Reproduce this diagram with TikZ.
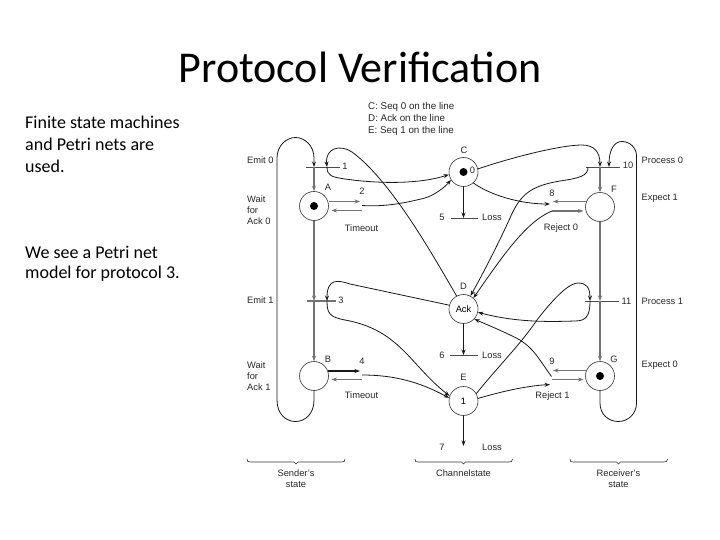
\documentclass[tikz,border=0pt]{standalone}
\usepackage{fontspec}
\setmainfont{Liberation Sans}
\newfontfamily\slidefont{Carlito}
\usetikzlibrary{arrows.meta}
\tikzset{
  x=1pt,y=-1pt,
  place/.style={circle,draw=black!80,line width=0.6pt,minimum size=29pt,inner sep=0pt,font=\fontsize{9.3}{10}\selectfont},
  lab/.style={font=\fontsize{9.3}{11}\selectfont,text=black!85,inner sep=0pt,align=center},
  labl/.style={lab,anchor=west,align=left},
  body/.style={font=\slidefont\fontsize{18}{22}\selectfont,anchor=west,inner sep=0pt,align=left},
  wire/.style={line width=0.8pt,black!90},
  hv/.style={line width=1.3pt,black!55},
  bar/.style={line width=0.8pt,black!70},
  arr/.style={-{Stealth[length=5.5pt,width=4pt]}},
  token/.style={circle,fill=black,inner sep=0pt,minimum size=8pt},
  brace/.style={line width=0.6pt,black!80}
}
\begin{document}
\begin{tikzpicture}
\useasboundingbox (0,0) rectangle (720,540);
\node[font=\slidefont\fontsize{44}{48}\selectfont,inner sep=0pt] (title) at (360,67) {Protocol Verification};
\node[body] (t1) at (25,122) {Finite state machines};
\node[body] (t2) at (25,144) {and Petri nets are};
\node[body] (t3) at (25,166) {used.};
\node[body] (t4) at (25,252) {We see a Petri net};
\node[body] (t5) at (25,274) {model for protocol 3.};
% places
\node[place] (A) at (314,206) {};
\node[place] (B) at (314,376) {};
\node[place] (C) at (463.5,172) {};
\node[place] (D) at (463.5,309) {Ack};
\node[place] (E) at (463.5,401) {1};
\node[place] (F) at (600,207) {};
\node[place] (G) at (600,376) {};
\node[token] (ta) at (A) {};
\node[token] (tc) at (C) {};
\node[token] (tg) at (G) {};
% transition points
\coordinate (T1) at (314,167); \coordinate (T1r) at (327,167);
\coordinate (T1a) at (306,167); \coordinate (T1b) at (340,167);
\coordinate (T3) at (314,301); \coordinate (T3r) at (327,301);
\coordinate (T3a) at (306.5,301); \coordinate (T3b) at (336,301);
\coordinate (T10) at (600,167); \coordinate (T10l) at (588,167); \coordinate (T10r) at (609,167);
\coordinate (T10a) at (585.5,167); \coordinate (T10b) at (620,167);
\coordinate (T11) at (600,301); \coordinate (T11l) at (590,301);
\coordinate (T11a) at (585,301); \coordinate (T11b) at (618.5,301);
\coordinate (L5) at (463.5,218); \coordinate (L5a) at (451,218); \coordinate (L5b) at (478,218);
\coordinate (L6) at (463.5,355); \coordinate (L6a) at (450,355); \coordinate (L6b) at (478,355);
\coordinate (L7) at (463.5,446);
\coordinate (T2) at (362,205.5);
\coordinate (T4) at (362,375);
\coordinate (T8) at (552,211); \coordinate (T8i) at (550,204);
\coordinate (T9) at (552,379); \coordinate (T9i) at (550,384.5); \coordinate (T9d) at (551.5,376.5);
% short arrow ends beside the places
\coordinate (Ao) at (328.5,201.5); \coordinate (T2i) at (360,201.5);
\coordinate (T2o) at (362,210.5); \coordinate (Ai) at (331.5,210.5);
\coordinate (Bo) at (328,371); \coordinate (T4i) at (360,371);
\coordinate (T4o) at (362,379.5); \coordinate (Bi) at (331.5,379.5);
\coordinate (Fo) at (585.5,201.5); \coordinate (T8f) at (553,201.5);
\coordinate (T8o) at (552,211); \coordinate (Fi) at (583.5,211);
\coordinate (Go) at (585.5,370.5); \coordinate (T9f) at (553,370.5);
\coordinate (T9o) at (552,379.5); \coordinate (Gi) at (583.5,379.5);
% bars
\draw[bar] (T1a) -- (T1b);
\draw[hv] (T3a) -- (T3b);
\draw[bar] (T10a) -- (T10b);
\draw[bar] (T11a) -- (T11b);
\draw[bar] (L5a) -- (L5b);
\draw[bar] (L6a) -- (L6b);
% sender column
\draw[wire,arr] (B.south) -- (314,400) .. controls (314,414) and (305,421.5) .. (295.5,421.5) .. controls (286,421.5) and (277,414) .. (277,400) -- (277,158) .. controls (277,146) and (286,137.5) .. (295.5,137.5) .. controls (305,137.5) and (314,146) .. (314,158) -- (T1);
\draw[hv,arr] (T1) -- (A.north);
\draw[hv,arr] (A.south) -- (T3);
\draw[hv,arr] (T3) -- (B.north);
\draw[hv,arr] (Ao) -- (T2i);
\draw[hv,arr] (T2o) -- (Ai);
\draw[wire,line width=1.1pt,arr] (Bo) -- (T4i);
\draw[hv,arr] (T4o) -- (Bi);
% receiver column
\draw[wire,arr] (G.south) -- (600,403) .. controls (600,414) and (608,421.5) .. (618.3,421.5) .. controls (628,421.5) and (636.5,414) .. (636.5,403) -- (636.5,156) .. controls (636.5,148) and (630,141.5) .. (622,141.5) .. controls (614,141.5) and (609,150) .. (T10r);
\draw[hv,arr] (T10) -- (F.north);
\draw[hv,arr] (F.south) -- (T11);
\draw[hv,arr] (T11) -- (G.north);
\draw[hv,arr] (Fo) -- (T8f);
\draw[hv,arr] (T8o) -- (Fi);
\draw[hv,arr] (Go) -- (T9f);
\draw[hv,arr] (T9o) -- (Gi);
% channel losses
\draw[wire,arr] (C.south) -- (L5);
\draw[wire,arr] (D.south) -- (L6);
\draw[wire,arr] (E.south) -- (L7);
% curves
\draw[wire,arr] (T1r) .. controls (327,176) and (332,177) .. (345,179) .. controls (380,184) and (420,184) .. (C.190);
\draw[wire,arr] (T2) .. controls (385,207) and (405,203) .. (425,198) .. controls (435,195) and (445,187) .. (C.212);
\draw[wire,arr] (C.-48) .. controls (490,195) and (520,204) .. (T8i);
\draw[wire,arr] (C.12) .. controls (510,158) and (560,145) .. (582,145) .. controls (594,145) and (600,152) .. (T10);
\draw[wire,arr] (D.118) .. controls (430,250) and (390,180) .. (352,152) .. controls (340,144) and (325,148) .. (T1r);
\draw[wire,arr] (T10l) .. controls (588,176) and (580,178) .. (560,181) .. controls (530,186) and (520,195) .. (510,218) .. controls (500,240) and (485,270) .. (D.62);
\draw[wire,arr] (T8) .. controls (525,222) and (500,260) .. (D.48);
\draw[wire,arr] (D.165) -- (350,284) .. controls (338,280) and (327,278) .. (T3r);
\draw[wire,arr] (T3r) .. controls (327,314) and (330,317) .. (345,320) .. controls (400,330) and (410,365) .. (E.160);
\draw[wire,arr] (T4) .. controls (400,375) and (425,385) .. (E.168);
\draw[wire,arr] (E.30) .. controls (495,370) and (520,345) .. (537,320) .. controls (560,290) and (572,283) .. (578,283) .. controls (586,283) and (590,287) .. (T11l);
\draw[wire,arr] (T11l) .. controls (590,316) and (586,321) .. (575,321) .. controls (545,322) and (515,322) .. (D.-13);
\draw[wire,arr] (T9d) .. controls (538,358) and (535,350) .. (520,340) .. controls (505,332) and (490,326) .. (D.-43);
\draw[wire,arr] (E.10) .. controls (500,392) and (525,386) .. (T9i);
% braces
\coordinate (b1a) at (247,459); \coordinate (b1m) at (296,462); \coordinate (b1b) at (345,459);
\coordinate (b2a) at (415,459); \coordinate (b2m) at (463.5,462); \coordinate (b2b) at (512.5,459);
\coordinate (b3a) at (570,459); \coordinate (b3m) at (618.5,462); \coordinate (b3b) at (667.5,459);
\foreach \a/\m/\b in {b1a/b1m/b1b,b2a/b2m/b2b,b3a/b3m/b3b}{
 \draw[brace] (\a) .. controls ([yshift=-2.5pt]\a) and ([xshift=-48pt,yshift=0pt]\m) .. ([xshift=-45pt]\m) -- ([xshift=-2pt]\m) -- ([yshift=-2pt]\m) -- ([xshift=2pt]\m) -- ([xshift=45pt]\m) .. controls ([xshift=48pt]\m) and ([yshift=-2.5pt]\b) .. (\b);
}
% labels
\node[labl,font=\fontsize{9.8}{12}\selectfont] (lg) at (368,119) {C: Seq 0 on the line\\D: Ack on the line\\E: Seq 1 on the line};
\node[labl] (le0) at (247,160) {Emit 0};
\node[labl] (lw0) at (247,210) {Wait\\for\\Ack 0};
\node[labl] (le1) at (247,300) {Emit 1};
\node[labl] (lw1) at (247,376) {Wait\\for\\Ack 1};
\node[labl] (lp0) at (641.5,160) {Process 0};
\node[labl] (lx1) at (641.5,198) {Expect 1};
\node[labl] (lp1) at (641.5,301) {Process 1};
\node[labl] (lx0) at (641.5,365) {Expect 0};
\node[lab] (lA) at (328,187) {A};
\node[lab] (lB) at (328,359) {B};
\node[lab] (lC) at (464,150) {C};
\node[lab] (lD) at (463.5,286) {D};
\node[lab] (lE) at (463.5,377.5) {E};
\node[lab] (lF) at (614,189) {F};
\node[lab] (lG) at (614,359) {G};
\node[lab] (n0) at (472.5,170) {0};
\node[lab] (n1) at (345,166) {1};
\node[lab] (n2) at (362,191) {2};
\node[lab] (n3) at (341,300) {3};
\node[lab] (n4) at (362,361) {4};
\node[lab] (n5) at (442,217) {5};
\node[lab] (n6) at (442,355) {6};
\node[lab] (n7) at (442,447) {7};
\node[lab] (n8) at (552,193) {8};
\node[lab] (n9) at (552,361.5) {9};
\node[lab] (n10) at (628,165.5) {10};
\node[lab] (n11) at (626.5,301) {11};
\node[lab] (lt0) at (361.5,228.5) {Timeout};
\node[lab] (lt1) at (361.5,395.5) {Timeout};
\node[lab] (lr0) at (561,228.5) {Reject 0};
\node[lab] (lr1) at (552.5,396.5) {Reject 1};
\node[lab] (ll5) at (492,217) {Loss};
\node[lab] (ll6) at (492,355) {Loss};
\node[lab] (ll7) at (492,447) {Loss};
\node[lab] (ls) at (296,478.5) {Sender's\\state};
\node[lab] (lc) at (463.5,473) {Channelstate};
\node[lab] (lr) at (618.5,478.5) {Receiver's\\state};
\end{tikzpicture}
\end{document}
